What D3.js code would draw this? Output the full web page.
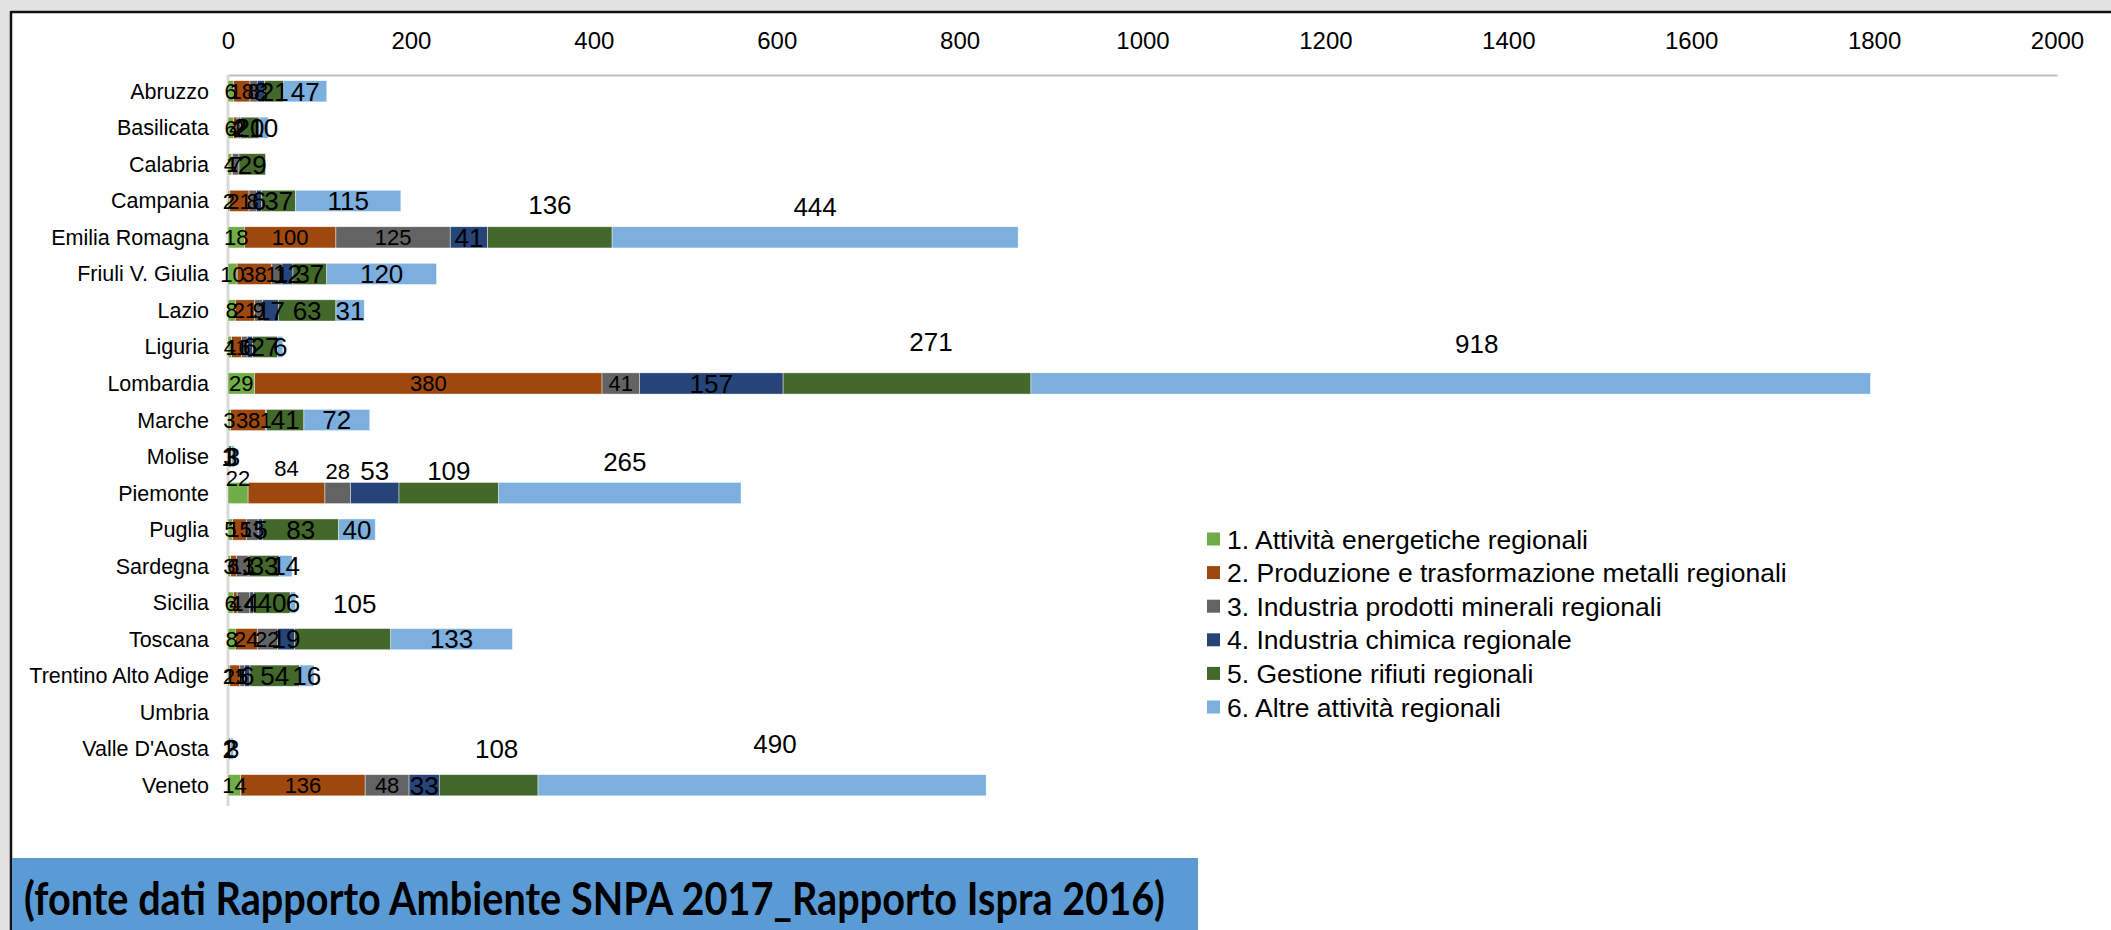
<!DOCTYPE html>
<html><head><meta charset="utf-8">
<script src="https://cdn.jsdelivr.net/npm/d3@7/dist/d3.min.js"></script>
<style>
html,body{margin:0;padding:0;background:#e2e2e2;}
svg{display:block;}
</style></head>
<body>
<svg id="chart" width="2111" height="930"></svg>
<script>
// ---------------- DATA ----------------
const categories = ["Abruzzo","Basilicata","Calabria","Campania","Emilia Romagna","Friuli V. Giulia","Lazio","Liguria","Lombardia","Marche","Molise","Piemonte","Puglia","Sardegna","Sicilia","Toscana","Trentino Alto Adige","Umbria","Valle D'Aosta","Veneto"];
const seriesNames = ["1. Attività energetiche regionali","2. Produzione e trasformazione metalli regionali","3. Industria prodotti minerali regionali","4. Industria chimica regionale","5. Gestione rifiuti regionali","6. Altre attività regionali"];
const s1 = [6,6,4,2,18,10,8,4,29,3,null,22,5,3,6,8,2,null,null,14];
const s2 = [18,4,1,21,100,38,21,11,380,38,null,84,15,6,4,24,11,null,1,136];
const s3 = [8,2,7,8,125,11,9,6,41,1,null,28,13,13,14,22,5,null,null,48];
const s4 = [8,2,null,6,41,12,17,6,157,null,1,53,5,1,4,19,6,null,null,33];
const s5 = [21,20,29,37,136,37,63,27,271,41,3,109,83,33,40,105,54,null,2,108];
const s6 = [47,10,null,115,444,120,31,6,918,72,3,265,40,14,6,133,16,null,3,490];
const tickValues = [0,200,400,600,800,1000,1200,1400,1600,1800,2000];
const sourceNote = "(fonte dati Rapporto Ambiente SNPA 2017_Rapporto Ispra 2016)";

// ---------------- STYLE ----------------
const colors = ["#70ad47","#9e480e","#636363","#264478","#43682b","#7cafdd"];
const labelSize = [22,22,22,26,26,26];
// labels drawn above their bar in the original: [category, series index, lift px, dx px]
const liftedLabels = [
  ["Emilia Romagna",4,33,0],["Emilia Romagna",5,31,0],
  ["Lombardia",4,42,24],["Lombardia",5,40,26],
  ["Piemonte",0,15,0],["Piemonte",1,25,0],["Piemonte",2,22,0],["Piemonte",3,22,0],["Piemonte",4,22,0],["Piemonte",5,31,5],
  ["Toscana",4,35,12],
  ["Veneto",4,37,8],["Veneto",5,42,13]
];

const allSeries = [s1,s2,s3,s4,s5,s6];
const svg = d3.select("#chart");
const FONT = "'Liberation Sans', Arial, sans-serif";

// background panel
svg.append("rect").attr("x",0).attr("y",0).attr("width",2111).attr("height",930).attr("fill","#e2e2e2");
svg.append("rect").attr("x",12).attr("y",13).attr("width",2099).attr("height",917).attr("fill","#ffffff");
svg.append("line").attr("x1",11).attr("x2",2111).attr("y1",12).attr("y2",12).attr("stroke","#111").attr("stroke-width",2.5);
svg.append("line").attr("x1",11).attr("x2",11).attr("y1",11).attr("y2",930).attr("stroke","#111").attr("stroke-width",2.5);

// scales
const x = d3.scaleLinear().domain([0,2000]).range([228,2057]);
const y = d3.scaleBand().domain(categories).range([73,803.5]).paddingInner(0.42).paddingOuter(0.21);

// stacked data
const rows = categories.map((c,i)=>{const o={cat:c}; allSeries.forEach((s,j)=>o["s"+j]=s[i]||0); return o;});
const stack = d3.stack().keys(d3.range(6).map(j=>"s"+j));
const layers = stack(rows);

// axis (top)
const axis = d3.axisTop(x).tickValues(tickValues).tickSize(0).tickPadding(0).tickFormat(d3.format("d"));
const gA = svg.append("g").attr("transform","translate(0,75)").call(axis);
gA.select(".domain").attr("stroke","#bfbfbf").attr("stroke-width",2);
gA.selectAll("text").attr("font-family",FONT).attr("font-size",24).attr("fill","#000").attr("y",-26);

// category axis
svg.append("line").attr("x1",x(0)).attr("x2",x(0)).attr("y1",75).attr("y2",806).attr("stroke","#d9d9d9").attr("stroke-width",3);
svg.append("g").selectAll("text").data(categories).join("text")
  .attr("x",209).attr("y",d=>y(d)+y.bandwidth()/2).attr("dy","0.35em")
  .attr("text-anchor","end").attr("font-family",FONT).attr("font-size",21.5).attr("fill","#000").text(d=>d);

// bars
const gBars = svg.append("g");
layers.forEach((layer,j)=>{
  gBars.append("g").selectAll("rect").data(layer.filter(d=>d[1]-d[0]>0)).join("rect")
    .attr("x",d=>x(d[0])).attr("width",d=>x(d[1])-x(d[0]))
    .attr("y",d=>y(d.data.cat)).attr("height",y.bandwidth())
    .attr("fill",colors[j]).attr("stroke","#ffffff").attr("stroke-width",0.6).attr("stroke-opacity",0.7);
});

// labels
const gLab = svg.append("g");
layers.forEach((layer,j)=>{
  layer.forEach((d,i)=>{
    const v = allSeries[j][i];
    if(v===null||v===undefined) return;
    const lift = liftedLabels.find(l=>l[0]===d.data.cat && l[1]===j);
    const cx = (x(d[0])+x(d[1]))/2 + (lift?lift[3]:0);
    const cy = y(d.data.cat)+y.bandwidth()/2 - (lift?lift[2]:0);
    gLab.append("text").attr("x",cx).attr("y",cy).attr("dy","0.36em").attr("text-anchor","middle")
      .attr("font-family",FONT).attr("font-size",labelSize[j]).attr("fill","#000").text(v);
  });
});

// legend
const lg = svg.append("g").attr("transform","translate(1207,539)");
seriesNames.forEach((n,j)=>{
  const g = lg.append("g").attr("transform",`translate(0,${j*33.6})`);
  g.append("rect").attr("x",0).attr("y",-6.5).attr("width",13).attr("height",13).attr("fill",colors[j]);
  g.append("text").attr("x",20).attr("y",0).attr("dy","0.36em").attr("font-family",FONT).attr("font-size",26.5).attr("fill","#000").text(n);
});

// source note box
svg.append("rect").attr("x",12).attr("y",858).attr("width",1186).attr("height",72).attr("fill","#5b9bd5");
svg.append("text").attr("x",24).attr("y",915).attr("font-family","Lato, 'Open Sans', sans-serif").attr("font-weight","bold")
  .attr("font-size",46).attr("fill","#000").attr("textLength",1141).attr("lengthAdjust","spacingAndGlyphs").text(sourceNote);
</script>
</body></html>
